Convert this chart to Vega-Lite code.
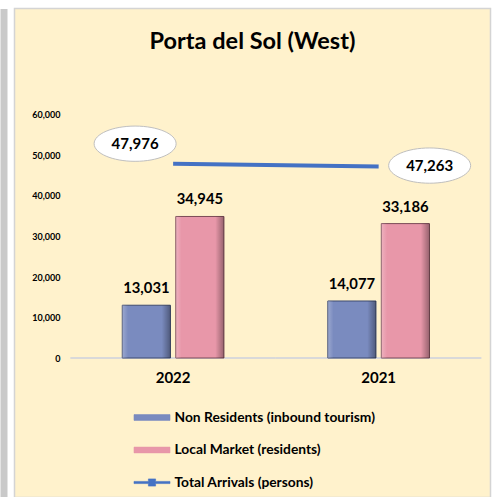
{
  "$schema": "https://vega.github.io/schema/vega-lite/v6.json",
  "width": 476,
  "height": 489,
  "autosize": "none",
  "padding": {"left": 14.5, "top": 8.5, "right": 7.5, "bottom": 0},
  "background": "#ffffff",
  "config": {
    "view": {"fill": "#fff2cc", "stroke": "#d4d4d4", "strokeWidth": 1.5},
    "font": "Lato",
    "axis": {"grid": false, "title": null},
    "axisX": {"offset": -139.5, "domain": false, "ticks": false, "tickSize": 0, "labelPadding": 12, "labelFont": "Lato", "labelFontSize": 15, "labelFontWeight": "bold", "labelColor": "#000000", "labelAngle": 0},
    "axisY": {"offset": 11, "domain": true, "domainColor": "#c9c9c9", "domainWidth": 7, "ticks": false, "tickSize": 0, "labelPadding": -56.5, "labelFont": "Lato", "labelFontSize": 9, "labelFontWeight": "bold", "labelColor": "#000000", "labelExpr": "format(datum.value, ',')"}
  },
  "title": {
    "text": "Porta del Sol (West)",
    "fontSize": 23.5,
    "fontWeight": "bold",
    "font": "Lato",
    "color": "#000000",
    "anchor": "middle",
    "frame": "group",
    "offset": -45
  },
  "datasets": {
    "bars": [
      {"year": "2022", "series": "Non Residents (inbound tourism)", "value": 13031},
      {"year": "2022", "series": "Local Market (residents)", "value": 34945},
      {"year": "2021", "series": "Non Residents (inbound tourism)", "value": 14077},
      {"year": "2021", "series": "Local Market (residents)", "value": 33186}
    ],
    "totals": [
      {"year": "2022", "total": 47976},
      {"year": "2021", "total": 47263}
    ]
  },
  "layer": [
    {
      "data": {"name": "totals"},
      "mark": {"type": "rule", "color": "#d9d9d9", "strokeWidth": 2},
      "encoding": {
        "x": {"field": "year", "type": "nominal", "title": null, "bandPosition": 0, "scale": {"domain": ["2022", "2021"], "paddingInner": 0, "paddingOuter": 0.158, "align": 0.86}},
        "x2": {"field": "year", "bandPosition": 1},
        "y": {"datum": 0, "type": "quantitative", "title": null, "scale": {"domain": [-34444, 86296], "zero": false, "nice": false}}
      }
    },
    {
      "data": {"name": "bars"},
      "mark": {"type": "bar", "strokeWidth": 1},
      "encoding": {
        "x": {
          "field": "year", "type": "nominal", "title": null,
          "scale": {"domain": ["2022", "2021"], "paddingInner": 0, "paddingOuter": 0.158, "align": 0.86},
          "axis": {"title": null, "orient": "bottom"}
        },
        "xOffset": {
          "field": "series", "type": "nominal",
          "scale": {"domain": ["Non Residents (inbound tourism)", "Local Market (residents)"], "paddingInner": 0.1, "paddingOuter": 0.97}
        },
        "y": {
          "field": "value", "type": "quantitative", "title": null,
          "scale": {"domain": [-34444, 86296], "zero": false, "nice": false},
          "axis": {"title": null, "orient": "left", "values": [0, 10000, 20000, 30000, 40000, 50000, 60000], "format": ",", "grid": false}
        },
        "color": {
          "field": "series", "type": "nominal",
          "scale": {"domain": ["Non Residents (inbound tourism)", "Local Market (residents)", "Total Arrivals (persons)"], "range": ["#7a8bbf", "#e897a9", "#4472c4"]},
          "legend": {
            "title": null,
            "orient": "none",
            "legendX": 119,
            "legendY": 390.5,
            "direction": "vertical",
            "padding": 0,
            "rowPadding": 6.5,
            "symbolSize": 1296,
            "labelFont": "Lato",
            "labelFontSize": 13.8,
            "labelFontWeight": "bold",
            "labelColor": "#000000",
            "labelOffset": 4,
            "labelLimit": 400,
            "encode": {
              "symbols": {
                "update": {
                  "shape": {"signal": "datum.value === 'Total Arrivals (persons)' ? 'M -1 -0.06 L -0.2 -0.06 L -0.2 -0.2 L 0.2 -0.2 L 0.2 -0.06 L 1 -0.06 L 1 0.06 L 0.2 0.06 L 0.2 0.2 L -0.2 0.2 L -0.2 0.06 L -1 0.06 Z' : 'M -1 -0.16 L 1 -0.16 L 1 0.16 L -1 0.16 Z'"},
                  "fill": {"signal": "scale('color', datum.value)"},
                  "fillOpacity": {"value": 1},
                  "stroke": {"value": "#555555"},
                  "strokeWidth": {"value": 0.6}
                }
              }
            }
          }
        },
        "stroke": {
          "field": "series", "type": "nominal",
          "scale": {"domain": ["Non Residents (inbound tourism)", "Local Market (residents)"], "range": ["#3f4b70", "#7b4b57"]},
          "legend": null
        }
      }
    },
    {
      "data": {"name": "bars"},
      "mark": {
        "type": "bar",
        "fill": {"gradient": "linear", "x1": 0, "y1": 0, "x2": 1, "y2": 0, "stops": [
          {"offset": 0, "color": "rgba(255,255,255,0.25)"},
          {"offset": 0.12, "color": "rgba(255,255,255,0)"},
          {"offset": 0.82, "color": "rgba(0,0,0,0)"},
          {"offset": 1, "color": "rgba(0,0,0,0.35)"}
        ]},
        "strokeWidth": 0
      },
      "encoding": {
        "x": {"field": "year", "type": "nominal", "title": null, "scale": {"domain": ["2022", "2021"], "paddingInner": 0, "paddingOuter": 0.158, "align": 0.86}},
        "xOffset": {"field": "series", "type": "nominal", "scale": {"domain": ["Non Residents (inbound tourism)", "Local Market (residents)"], "paddingInner": 0.1, "paddingOuter": 0.97}},
        "y": {"field": "value", "type": "quantitative", "title": null, "scale": {"domain": [-34444, 86296], "zero": false, "nice": false}}
      }
    },
    {
      "data": {"name": "bars"},
      "mark": {"type": "text", "dy": -12, "baseline": "alphabetic", "font": "Lato", "fontSize": 14.8, "fontWeight": "bold", "color": "#000000"},
      "encoding": {
        "x": {"field": "year", "type": "nominal", "title": null, "scale": {"domain": ["2022", "2021"], "paddingInner": 0, "paddingOuter": 0.158, "align": 0.86}},
        "xOffset": {"field": "series", "type": "nominal", "scale": {"domain": ["Non Residents (inbound tourism)", "Local Market (residents)"], "paddingInner": 0.1, "paddingOuter": 0.97}},
        "y": {"field": "value", "type": "quantitative", "title": null, "scale": {"domain": [-34444, 86296], "zero": false, "nice": false}},
        "text": {"field": "value", "type": "quantitative", "format": ","}
      }
    },
    {
      "data": {"name": "totals"},
      "mark": {"type": "line", "strokeWidth": 4},
      "encoding": {
        "x": {"field": "year", "type": "nominal", "title": null, "scale": {"domain": ["2022", "2021"], "paddingInner": 0, "paddingOuter": 0.158, "align": 0.86}},
        "y": {"field": "total", "type": "quantitative", "title": null, "scale": {"domain": [-34444, 86296], "zero": false, "nice": false}},
        "color": {"datum": "Total Arrivals (persons)"}
      }
    },
    {
      "data": {"name": "totals"},
      "transform": [{"filter": "datum.year === '2022'"}],
      "mark": {"type": "point", "shape": "M -1 0 A 1 0.43 0 1 1 1 0 A 1 0.43 0 1 1 -1 0 Z", "size": 6724, "filled": true, "fill": "#ffffff", "stroke": "#bfbfbf", "strokeWidth": 1, "opacity": 1, "xOffset": -38, "yOffset": -20},
      "encoding": {
        "x": {"field": "year", "type": "nominal", "title": null, "scale": {"domain": ["2022", "2021"], "paddingInner": 0, "paddingOuter": 0.158, "align": 0.86}},
        "y": {"field": "total", "type": "quantitative", "title": null, "scale": {"domain": [-34444, 86296], "zero": false, "nice": false}}
      }
    },
    {
      "data": {"name": "totals"},
      "transform": [{"filter": "datum.year === '2022'"}],
      "mark": {"type": "text", "font": "Lato", "fontSize": 15, "fontWeight": "bold", "color": "#000000", "baseline": "middle", "xOffset": -38, "yOffset": -20},
      "encoding": {
        "x": {"field": "year", "type": "nominal", "title": null, "scale": {"domain": ["2022", "2021"], "paddingInner": 0, "paddingOuter": 0.158, "align": 0.86}},
        "y": {"field": "total", "type": "quantitative", "title": null, "scale": {"domain": [-34444, 86296], "zero": false, "nice": false}},
        "text": {"field": "total", "type": "quantitative", "format": ","}
      }
    },
    {
      "data": {"name": "totals"},
      "transform": [{"filter": "datum.year === '2021'"}],
      "mark": {"type": "point", "shape": "M -1 0 A 1 0.43 0 1 1 1 0 A 1 0.43 0 1 1 -1 0 Z", "size": 6724, "filled": true, "fill": "#ffffff", "stroke": "#bfbfbf", "strokeWidth": 1, "opacity": 1, "xOffset": 51, "yOffset": -1},
      "encoding": {
        "x": {"field": "year", "type": "nominal", "title": null, "scale": {"domain": ["2022", "2021"], "paddingInner": 0, "paddingOuter": 0.158, "align": 0.86}},
        "y": {"field": "total", "type": "quantitative", "title": null, "scale": {"domain": [-34444, 86296], "zero": false, "nice": false}}
      }
    },
    {
      "data": {"name": "totals"},
      "transform": [{"filter": "datum.year === '2021'"}],
      "mark": {"type": "text", "font": "Lato", "fontSize": 15, "fontWeight": "bold", "color": "#000000", "baseline": "middle", "xOffset": 51, "yOffset": -1},
      "encoding": {
        "x": {"field": "year", "type": "nominal", "title": null, "scale": {"domain": ["2022", "2021"], "paddingInner": 0, "paddingOuter": 0.158, "align": 0.86}},
        "y": {"field": "total", "type": "quantitative", "title": null, "scale": {"domain": [-34444, 86296], "zero": false, "nice": false}},
        "text": {"field": "total", "type": "quantitative", "format": ","}
      }
    }
  ]
}
